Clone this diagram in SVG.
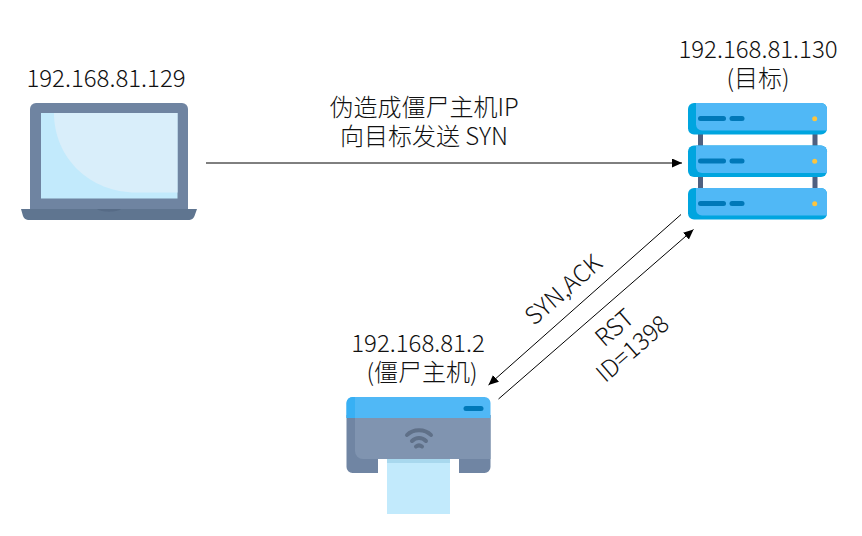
<svg xmlns="http://www.w3.org/2000/svg" width="862" height="536" viewBox="0 0 862 536">
<style>
text{font-family:"Noto Sans CJK SC","Noto Sans",sans-serif;font-size:24px;font-weight:300;fill:#111;text-anchor:middle}
.c{stroke:#000;stroke-width:1;fill:none;marker-end:url(#a)}
.rack{fill:#50b8f6}.edge{fill:#00a5df}.led{fill:#fcc43e}.slot{fill:#0078b8}.post{fill:#4f6080}
</style>
<defs>
<marker id="a" markerUnits="userSpaceOnUse" markerWidth="11" markerHeight="10" refX="10" refY="4.5" orient="auto"><path d="M0 0L10 4.5L0 9Z" fill="#000"/></marker>
<g id="rackunit">
<rect class="edge" x="688" y="0" width="139" height="31.500" rx="6"/>
<path class="rack" d="M696 0H821a6 6 0 0 1 6 6V27.500H702a6 6 0 0 1-6-6Z"/>
<rect class="slot" x="698" y="13" width="28" height="5" rx="2.500"/>
<rect class="slot" x="729.500" y="13" width="15" height="5" rx="2.500"/>
<circle class="led" cx="814.700" cy="15.700" r="2.500"/>
</g>
</defs>
<g id="connectors">
<line class="c" x1="206" y1="163" x2="682" y2="163"/>
<line class="c" x1="681" y1="214.500" x2="488.500" y2="385"/>
<line class="c" x1="498.500" y1="399" x2="693.500" y2="229.500"/>
</g>
<g id="laptop">
<text x="106" y="87">192.168.81.129</text>
<path d="M30 109a6 6 0 0 1 6-6H182a6 6 0 0 1 6 6V210H30Z" fill="#6f84a1"/>
<rect x="41" y="113" width="136.500" height="85.500" fill="#c2eafc"/>
<path d="M54 113H177.500V192.500H136C90 192.500 54 158 54 113Z" fill="#d9eefa"/>
<path d="M21 209H197L194.500 216a6 6 0 0 1-5 4H28a6 6 0 0 1-5-4Z" fill="#5f7590"/>
<path d="M97 209H121C117 212.500 101 212.500 97 209Z" fill="#566b86"/>
</g>
<g id="server">
<text x="758" y="58">192.168.81.130</text>
<text x="758" y="87">(目标)</text>
<rect class="post" x="698" y="130" width="5" height="64"/>
<rect class="post" x="812.500" y="130" width="5" height="64"/>
<use href="#rackunit" y="103"/>
<use href="#rackunit" y="145.500"/>
<use href="#rackunit" y="188"/>
</g>
<g id="zombie">
<text x="418" y="352">192.168.81.2</text>
<text x="422" y="381">(僵尸主机)</text>
<rect x="387" y="455" width="63" height="59" fill="#c2eafc"/>
<path d="M346.500 415V467a6 6 0 0 0 6 6H378V459H459V473H484.500a6 6 0 0 0 6-6V415Z" fill="#7085a3"/>
<path d="M355 415V451a8 8 0 0 0 8 8H490.500V415Z" fill="#8094b0"/>
<rect x="387" y="459" width="63" height="4" fill="#a8d8ee"/>
<path d="M346.500 418V403a6 6 0 0 1 6-6H484.500a6 6 0 0 1 6 6V418Z" fill="#50b8f6"/>
<path d="M346.500 418V403a6 6 0 0 1 6-6H355V418Z" fill="#38b0f4"/>
<rect x="463.500" y="406" width="20" height="5" rx="2.500" fill="#0078b8"/>
<g fill="none" stroke="#5f7088" stroke-width="4" stroke-linecap="round">
<path d="M407 435C413 428.500 425 428.500 431 435"/>
<path d="M412 441C416 437 422 437 426 441"/>
<path d="M416 446.500C418 445 420 445 422 446.500"/>
</g>
</g>
<g id="labels">
<text x="424" y="116">伪造成僵尸主机IP</text>
<text x="424" y="145">向目标发送 SYN</text>
<text transform="translate(569 296) rotate(-41)">SYN,ACK</text>
<text transform="translate(620 334) rotate(-41)">RST</text>
<text transform="translate(638 355) rotate(-41)">ID=1398</text>
</g>
</svg>
